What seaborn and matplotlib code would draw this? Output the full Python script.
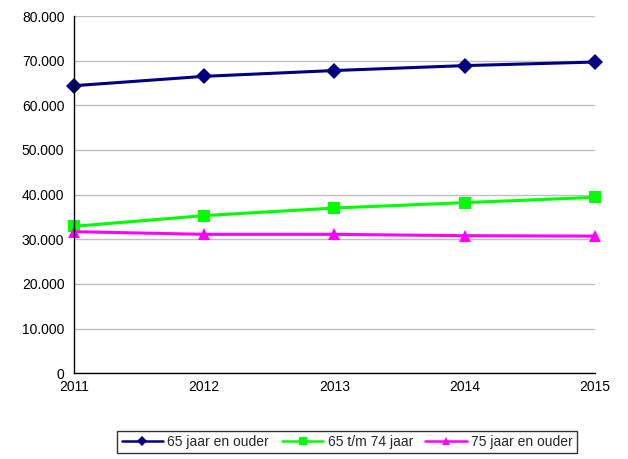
import matplotlib
matplotlib.use("Agg")
import matplotlib.pyplot as plt
import seaborn as sns
import pandas as pd
from matplotlib.ticker import FuncFormatter

years = [2011, 2012, 2013, 2014, 2015]
ouder_65 = [64400, 66500, 67800, 68900, 69700]
jaar_65_74 = [32900, 35300, 37000, 38200, 39400]
ouder_75 = [31700, 31100, 31100, 30800, 30700]

series = ["65 jaar en ouder", "65 t/m 74 jaar", "75 jaar en ouder"]
colors = ["#000080", "#00FF00", "#FF00FF"]
markers = ["D", "s", "^"]

df = pd.DataFrame({"jaar": years, series[0]: ouder_65,
                   series[1]: jaar_65_74, series[2]: ouder_75})
df = df.melt(id_vars="jaar", var_name="groep", value_name="aantal")

sns.set_style("white")
plt.rcParams['font.family'] = ['Liberation Sans', 'DejaVu Sans']

fig = plt.figure(figsize=(6.28, 4.59), dpi=100)
ax = fig.add_axes([0.118, 0.187, 0.829, 0.778])

sns.lineplot(data=df, x="jaar", y="aantal", hue="groep", style="groep",
             hue_order=series, style_order=series, palette=colors,
             markers=markers, dashes=False, markersize=8, linewidth=2.2,
             markeredgewidth=0, ax=ax, legend=True)
for ln in ax.lines:
    ln.set_clip_on(False)

ax.set_xlim(2011, 2015)
ax.set_ylim(0, 80000)
ax.set_xticks(years)
ax.set_yticks(range(0, 80001, 10000))
ax.yaxis.set_major_formatter(FuncFormatter(
    lambda v, p: "0" if v == 0 else f"{int(v):,}".replace(",", ".")))
ax.grid(axis="y", color="#c0c0c0", linewidth=1)
ax.set_axisbelow(True)
for s in ["top", "right"]:
    ax.spines[s].set_visible(False)
for s in ["left", "bottom"]:
    ax.spines[s].set_color("black")
    ax.spines[s].set_linewidth(1)
ax.tick_params(axis="both", direction="out", length=4, width=1,
               color="black", labelsize=10, labelcolor="black", pad=3)
ax.tick_params(axis="x", pad=1)
ax.set_xlabel("")
ax.set_ylabel("")

ax.legend_.remove()
handles, labels = ax.get_legend_handles_labels()
for h in handles:
    h.set_linewidth(1.8)
leg = fig.legend(handles, labels, loc="center", bbox_to_anchor=(0.553, 0.037),
                 ncol=3, frameon=True, fancybox=False, edgecolor="black",
                 fontsize=10, handlelength=3, columnspacing=0.9,
                 handletextpad=0.3, borderpad=0.3, markerscale=0.7)
leg.get_frame().set_linewidth(1)

fig.savefig("out.png", dpi=100)
